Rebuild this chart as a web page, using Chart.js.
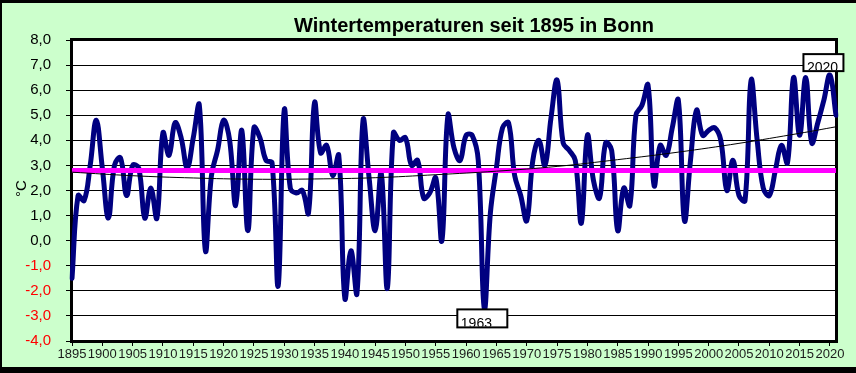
<!DOCTYPE html>
<html>
<head>
<meta charset="utf-8">
<script src="https://cdn.jsdelivr.net/npm/chart.js@4.4.1/dist/chart.umd.min.js"></script>
<style>
html,body{margin:0;padding:0;background:#CCFFCC;}
#wrap{width:856px;height:373px;position:relative;}
canvas{display:block;}
</style>
</head>
<body>
<div id="wrap"><canvas id="c" width="856" height="373"></canvas></div>
<script>
// ---- data ----
const years = [
  1895,1896,1897,1898,1899,1900,1901,1902,1903,1904,
  1905,1906,1907,1908,1909,1910,1911,1912,1913,1914,
  1915,1916,1917,1918,1919,1920,1921,1922,1923,1924,
  1925,1926,1927,1928,1929,1930,1931,1932,1933,1934,
  1935,1936,1937,1938,1939,1940,1941,1942,1943,1944,
  1945,1946,1947,1948,1949,1950,1951,1952,1953,1954,
  1955,1956,1957,1958,1959,1960,1961,1962,1963,1964,
  1965,1966,1967,1968,1969,1970,1971,1972,1973,1974,
  1975,1976,1977,1978,1979,1980,1981,1982,1983,1984,
  1985,1986,1987,1988,1989,1990,1991,1992,1993,1994,
  1995,1996,1997,1998,1999,2000,2001,2002,2003,2004,
  2005,2006,2007,2008,2009,2010,2011,2012,2013,2014,
  2015,2016,2017,2018,2019,2020,2021
];
const winterTemps = [
  -1.5, 1.8, 1.6, 3.0, 4.8, 2.9, 0.9, 3.0, 3.3, 1.8,
   3.0, 2.9, 0.9, 2.1, 0.9, 4.3, 3.4, 4.7, 4.1, 2.9,
   4.1, 5.4,-0.4, 2.6, 3.6, 4.8, 4.0, 1.4, 4.4, 0.4,
   4.5, 4.1, 3.2, 3.1,-1.8, 5.2, 2.1, 1.9, 2.0, 1.1,
   5.5, 3.5, 3.8, 2.6, 3.4,-2.3,-0.4,-2.1, 4.8, 2.5,
   0.4, 2.7,-1.9, 4.3, 4.0, 4.1, 3.0, 3.2, 1.7, 1.9,
   2.5, 0.0, 5.0, 3.7, 3.2, 4.2, 4.2, 3.2,-2.7, 1.1,
   2.9, 4.5, 4.7, 2.6, 1.8, 0.8, 3.2, 4.0, 3.0, 4.9,
   6.4, 3.9, 3.6, 3.2, 0.7, 4.2, 2.4, 1.7, 3.9, 3.6,
   0.4, 2.1, 1.4, 5.0, 5.4, 6.2, 2.2, 3.8, 3.4, 4.5,
   5.6, 0.8, 3.2, 5.2, 4.2, 4.4, 4.5, 4.0, 2.0, 3.2,
   1.8, 1.6, 6.4, 4.0, 2.1, 1.8, 2.8, 3.8, 3.1, 6.5,
   4.2, 6.5, 3.9, 4.7, 5.6, 6.6, 5.0
];
const meanTemp = 2.8;                       // magenta mean line
const trendYears  = [1895,1905,1915,1925,1935,1945,1955,1965,1975,1985,1995,2005,2015,2021];
const trendValues = [2.73,2.59,2.50,2.45,2.46,2.51,2.63,2.77,2.96,3.23,3.53,3.88,4.28,4.54];
const labelEvery = 5;                        // x tick label step (years)
const yMin = -4, yMax = 8, yStep = 1;
const title = 'Wintertemperaturen seit 1895 in Bonn';
const yTitle = '°C';
const markedYears = [
  {year: 1963, place: 'below'},
  {year: 2020, place: 'above'}
];

// ---- build datasets from the arrays ----
const trendData = years.map(y => { const k = trendYears.indexOf(y); return k >= 0 ? trendValues[k] : null; });
const meanData = years.map((y, i) => (i === 0 || i === years.length - 1) ? meanTemp : null);

const FONT = "'Liberation Sans', Arial, sans-serif";

const decor = {
  id: 'decor',
  beforeDraw(chart) {
    const c = chart.ctx, a = chart.chartArea;
    c.save();
    c.fillStyle = '#CCFFCC';
    c.fillRect(0, 0, chart.width, chart.height);
    c.fillStyle = '#FFFFFF';
    c.fillRect(a.left, a.top, a.right - a.left, a.bottom - a.top);
    c.restore();
  },
  beforeDatasetsDraw(chart) {
    const c = chart.ctx, a = chart.chartArea;
    c.save();
    c.strokeStyle = '#000';
    c.lineWidth = 3;
    c.strokeRect(a.left - 0.5, a.top - 0.5, a.right - a.left + 1, a.bottom - a.top + 1);
    c.restore();
  },
  afterDraw(chart) {
    const c = chart.ctx, a = chart.chartArea;
    const xs = chart.scales.x, ys = chart.scales.y;
    c.save();
    // outer frame
    c.fillStyle = '#000';
    c.fillRect(0, 0, chart.width, 3);
    c.fillRect(0, 0, 2, chart.height);
    c.fillRect(0, chart.height - 6, chart.width, 6);
    // title
    c.fillStyle = '#000';
    c.font = 'bold 20px ' + FONT;
    c.textAlign = 'center';
    c.textBaseline = 'alphabetic';
    c.fillText(title, (a.left + a.right) / 2 + 20, 32);
    // y axis title
    c.save();
    c.translate(22, (a.top + a.bottom) / 2 - 2);
    c.rotate(-Math.PI / 2);
    c.font = '15px ' + FONT;
    c.textAlign = 'center';
    c.textBaseline = 'middle';
    c.fillText(yTitle, 0, 0);
    c.restore();
    // data labels (boxes) for marked years
    markedYears.forEach(m => {
      const i = years.indexOf(m.year);
      if (i < 0) return;
      const px = xs.getPixelForValue(i);
      const py = ys.getPixelForValue(winterTemps[i]);
      let bx, by, bw, bh;
      if (m.place === 'below') { bw = 50; bh = 18; bx = px - 27; by = py + 1; }
      else { bw = 40; bh = 17; bx = px - 26.5; by = py - 21; }
      c.fillStyle = '#FFFFFF';
      c.fillRect(bx, by, bw, bh);
      c.save();
      c.beginPath();
      c.rect(bx, by, bw, bh - 1);
      c.clip();
      c.fillStyle = '#000';
      c.font = '14px ' + FONT;
      c.textAlign = 'left';
      c.textBaseline = 'alphabetic';
      c.fillText(String(m.year), bx + 3.5, by + bh + 0.5);
      c.restore();
      c.strokeStyle = '#000';
      c.lineWidth = 2;
      c.strokeRect(bx, by, bw, bh);
    });
    c.restore();
  }
};

new Chart(document.getElementById('c'), {
  type: 'line',
  data: {
    labels: years.map(String),
    datasets: [
      { label: 'Trend', data: trendData, borderColor: '#000000', borderWidth: 1, spanGaps: true, tension: 0.4, pointRadius: 0 },
      { label: 'Mittel', data: meanData, borderColor: '#FF00FF', borderWidth: 5, spanGaps: true, tension: 0, pointRadius: 0 },
      { label: 'Winter', data: winterTemps, borderColor: '#000080', borderWidth: 5, tension: 0.4, pointRadius: 0, borderCapStyle: 'round', borderJoinStyle: 'round' }
    ]
  },
  options: {
    responsive: false,
    animation: false,
    devicePixelRatio: 1,
    layout: { padding: { top: 40, right: 20, left: 0, bottom: 0 } },
    plugins: { legend: { display: false }, tooltip: { enabled: false }, title: { display: false } },
    elements: { point: { radius: 0 } },
    scales: {
      x: {
        type: 'category',
        offset: false,
        border: { display: false },
        grid: {
          display: true, drawOnChartArea: false, drawTicks: true, tickLength: 5,
          tickWidth: 1,
          tickColor: ctx => ((years[ctx.index] - years[0]) % labelEvery === 0) ? '#000' : 'rgba(0,0,0,0)'
        },
        ticks: {
          autoSkip: false, maxRotation: 0, minRotation: 0, padding: 1,
          color: '#1a1a1a',
          font: { family: FONT, size: 13 },
          callback: (v, i) => ((years[i] - years[0]) % labelEvery === 0) ? String(years[i]) : ''
        },
        afterFit: s => { s.height = 32; }
      },
      y: {
        min: yMin, max: yMax,
        border: { display: false },
        grid: { color: '#000', lineWidth: 1, tickLength: 6, tickColor: '#000' },
        ticks: {
          stepSize: yStep, padding: 15,
          font: { family: FONT, size: 15 },
          color: ctx => (ctx.tick && ctx.tick.value < 0) ? '#FF0000' : '#000000',
          callback: v => Number(v).toFixed(1).replace('.', ',')
        },
        afterFit: s => { s.width = 72; }
      }
    }
  },
  plugins: [decor]
});
</script>
</body>
</html>
